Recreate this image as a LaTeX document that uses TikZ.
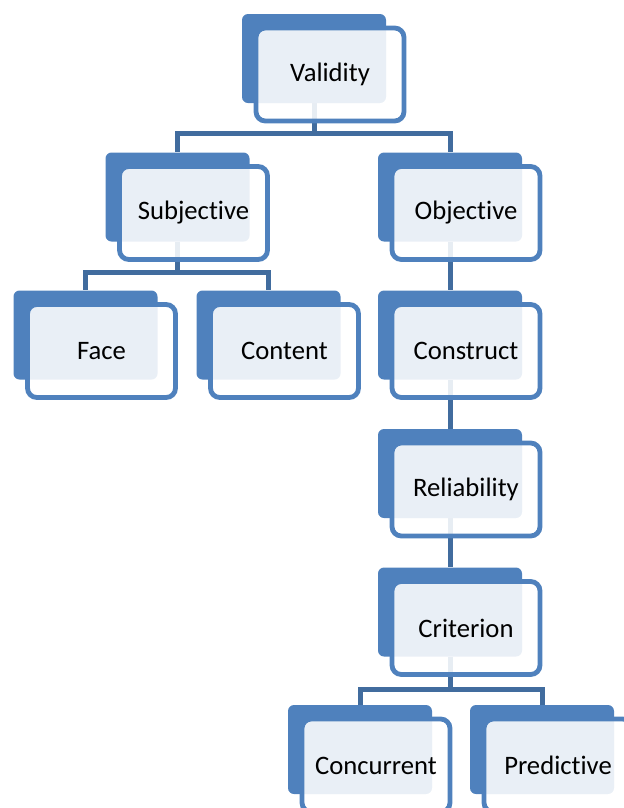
\documentclass[tikz,border=0pt]{standalone}
\usepackage{fontspec}
\setmainfont{Carlito}[Ligatures=NoCommon]
\usepackage{tikz}
\usetikzlibrary{backgrounds}
\definecolor{box-blue}{RGB}{79,129,189}
\definecolor{link-blue}{RGB}{65,108,158}
\tikzset{
    back-box/.style = {fill=box-blue, rectangle, rounded corners=4.5pt, inner sep=0pt, minimum width=108pt, minimum height=66.75pt},
    front-box/.style = {draw=box-blue, line width=3.6pt, fill=white, fill opacity=0.88, text opacity=1, rectangle, rounded corners=7pt, inner sep=0pt, minimum width=111pt, minimum height=69.75pt, font=\fontsize{20}{24}\selectfont},
    link/.style = {draw=link-blue, line width=3.75pt},
}

\begin{document}
\begin{tikzpicture}[x=0.75pt, y=-0.75pt]
\useasboundingbox (0,0) rectangle (624,808);
\clip (0,0) rectangle (624,808);
% back boxes
\node [back-box] (validity) at (314,58.5) {};
\node [back-box] (subjective) at (177.5,197) {};
\node [back-box] (objective) at (450,197) {};
\node [back-box] (face) at (85.5,335) {};
\node [back-box] (content) at (268.5,335) {};
\node [back-box] (construct) at (450,335) {};
\node [back-box] (reliability) at (450,473.5) {};
\node [back-box] (criterion) at (450,612) {};
\node [back-box] (concurrent) at (360,749.5) {};
\node [back-box] (predictive) at (542,749.5) {};
% front boxes with the labels
\node [front-box] (validity-front) at ([xshift=12pt,yshift=-12pt]validity.center) {Validity};
\node [front-box] (subjective-front) at ([xshift=12pt,yshift=-12pt]subjective.center) {Subjective};
\node [front-box] (objective-front) at ([xshift=12pt,yshift=-12pt]objective.center) {Objective};
\node [front-box] (face-front) at ([xshift=12pt,yshift=-12pt]face.center) {Face};
\node [front-box] (content-front) at ([xshift=12pt,yshift=-12pt]content.center) {Content};
\node [front-box] (construct-front) at ([xshift=12pt,yshift=-12pt]construct.center) {Construct};
\node [front-box] (reliability-front) at ([xshift=12pt,yshift=-12pt]reliability.center) {Reliability};
\node [front-box] (criterion-front) at ([xshift=12pt,yshift=-12pt]criterion.center) {Criterion};
\node [front-box] (concurrent-front) at ([xshift=12pt,yshift=-12pt]concurrent.center) {Concurrent};
\node [front-box] (predictive-front) at ([xshift=12pt,yshift=-12pt]predictive.center) {Predictive};
% links
\begin{pgfonlayer}{background}
\draw [link] (validity.south) -- ++(0,30) -| (subjective.north);
\draw [link] (validity.south) -- ++(0,30) -| (objective.north);
\draw [link] (subjective.south) -- ++(0,31) -| (face.north);
\draw [link] (subjective.south) -- ++(0,31) -| (content.north);
\draw [link] (objective.south) -- (construct.north);
\draw [link] (construct.south) -- (reliability.north);
\draw [link] (reliability.south) -- (criterion.north);
\draw [link] (criterion.south) -- ++(0,33) -| (concurrent.north);
\draw [link] (criterion.south) -- ++(0,33) -| (predictive.north);
\end{pgfonlayer}
\end{tikzpicture}
\end{document}
